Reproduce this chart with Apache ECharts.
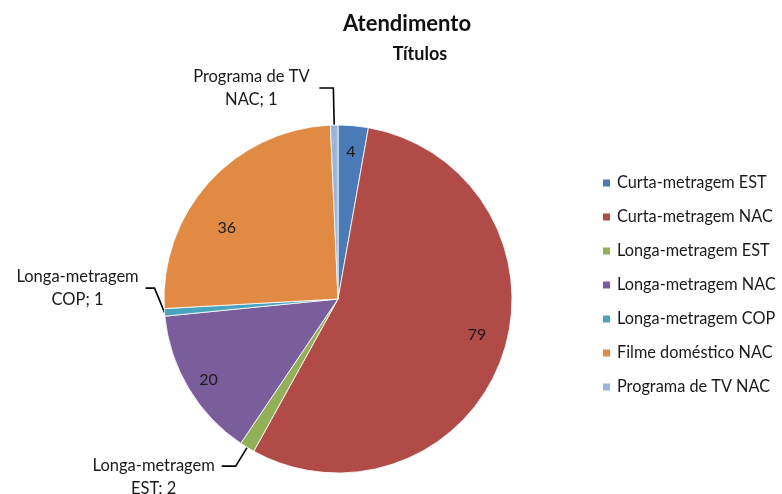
<!DOCTYPE html>
<html>
<head>
<meta charset="utf-8">
<script src="https://cdn.jsdelivr.net/npm/echarts@6/dist/echarts.min.js"></script>
<style>
  html, body { margin: 0; padding: 0; background: #fff; }
  #chart { width: 782px; height: 494px; }
</style>
</head>
<body>
<div id="chart"></div>
<script>
// Atendimento — número de títulos por categoria
const categories = [
  'Curta-metragem EST',
  'Curta-metragem NAC',
  'Longa-metragem EST',
  'Longa-metragem NAC',
  'Longa-metragem COP',
  'Filme doméstico NAC',
  'Programa de TV NAC'
];
const titleCounts = [4, 79, 2, 20, 1, 36, 1];
const sliceColors = ['#4a7bb7', '#b04b48', '#93b059', '#7a5e9c', '#4aa4bf', '#e08a43', '#9bb4d9'];
// small slices get a callout label outside the pie
const calloutNames = ['Longa-metragem EST', 'Longa-metragem COP', 'Programa de TV NAC'];

const FONT = 'Lato, "Open Sans", sans-serif';
const R = 174;
const CENTER = [338, 299];

// small nudges so labels sit clear of neighbours
const labelNudge = {
  'Longa-metragem COP': { dy: -25, moveLine: true },
  'Longa-metragem EST': { dy: 11 },
  'Curta-metragem NAC': { dy: -13 },
  'Filme doméstico NAC': { dy: 28, dx: -2 },
  'Longa-metragem NAC': { dy: 5, dx: -3 }
};

// "Programa de TV NAC" -> "Programa de TV\nNAC; 1"
function calloutText(name, value) {
  const cut = name.lastIndexOf(' ');
  return '{c|' + name.slice(0, cut) + '}\n{c|' + name.slice(cut + 1) + '; ' + value + '}';
}

function nudge(params) {
  const n = labelNudge[categories[params.dataIndex]];
  if (!n) return {};
  const out = { dx: n.dx || 0, dy: n.dy || 0 };
  // lift the elbow and tail of the leader line together with its label
  if (n.moveLine && params.labelLinePoints) {
    const pts = params.labelLinePoints;
    out.labelLinePoints = [
      [pts[0][0], pts[0][1]],
      [pts[1][0], pts[1][1] + out.dy],
      [pts[2][0], pts[2][1] + out.dy]
    ];
  }
  return out;
}

const pieData = categories.map((name, i) => {
  const isCallout = calloutNames.includes(name);
  const item = {
    name: name,
    value: titleCounts[i],
    itemStyle: { color: sliceColors[i] },
    label: { show: isCallout },
    labelLine: { show: isCallout }
  };
  if (name === 'Programa de TV NAC') item.labelLine.length = 37;
  if (name === 'Longa-metragem COP') { item.labelLine.length = 10; item.labelLine.length2 = 9; }
  return item;
});

// transparent twin pie, used only to place the value labels near the rim
const valueLabelData = categories.map((name, i) => ({
  name: name,
  value: titleCounts[i],
  label: { show: !calloutNames.includes(name) }
}));

const chart = echarts.init(document.getElementById('chart'), null, { renderer: 'canvas' });
chart.setOption({
  animation: false,
  backgroundColor: '#ffffff',
  title: [
    {
      text: 'Atendimento',
      left: 402, top: 8, textAlign: 'center',
      textStyle: { fontFamily: FONT, fontSize: 22, fontWeight: 'bold', color: '#111' }
    },
    {
      text: 'Títulos',
      left: 415, top: 40, textAlign: 'center',
      textStyle: { fontFamily: FONT, fontSize: 18, fontWeight: 'bold', color: '#111' }
    }
  ],
  legend: {
    orient: 'vertical',
    left: 596, top: 170,
    icon: 'rect',
    itemWidth: 9, itemHeight: 9,
    itemGap: 18,
    data: categories,
    textStyle: { fontFamily: FONT, fontSize: 16.3, color: '#1a1a1a', padding: [0, 0, 0, 1] }
  },
  series: [
    {
      type: 'pie',
      center: CENTER,
      radius: R,
      startAngle: 90,
      clockwise: true,
      avoidLabelOverlap: false,
      itemStyle: { borderColor: '#ffffff', borderWidth: 0.8 },
      emphasis: { disabled: true },
      label: {
        position: 'outside',
        formatter: p => calloutText(p.name, p.value),
        rich: {
          c: { fontFamily: FONT, fontSize: 16.5, color: '#1a1a1a', width: 132, align: 'center', lineHeight: 23 }
        },
        distanceToLabelLine: 2
      },
      labelLine: { length: 22, length2: 14, lineStyle: { color: '#000', width: 1.6 } },
      labelLayout: nudge,
      data: pieData
    },
    {
      type: 'pie',
      center: CENTER,
      radius: R * 1.66,
      startAngle: 90,
      clockwise: true,
      silent: true,
      legendHoverLink: false,
      avoidLabelOverlap: false,
      itemStyle: { color: 'rgba(0,0,0,0)', borderWidth: 0 },
      label: {
        position: 'inside',
        formatter: '{c}',
        fontFamily: FONT, fontSize: 16, color: '#1a1a1a'
      },
      labelLine: { show: false },
      labelLayout: nudge,
      data: valueLabelData
    }
  ]
});
</script>
</body>
</html>
